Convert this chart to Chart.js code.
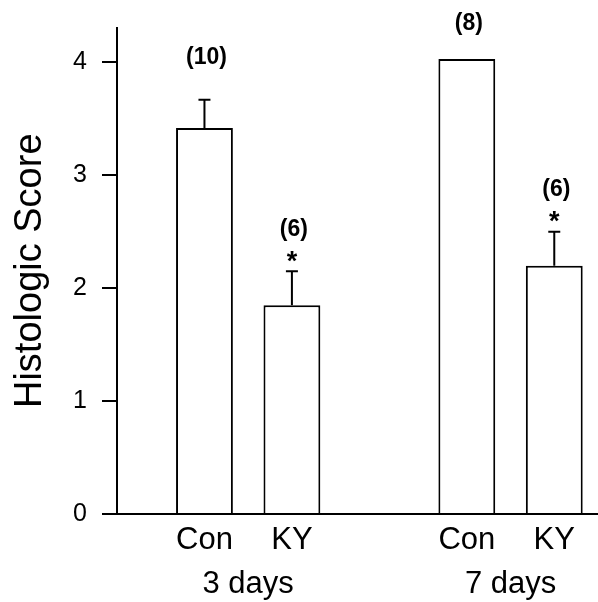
<!DOCTYPE html>
<html>
<head>
<meta charset="utf-8">
<script src="https://cdn.jsdelivr.net/npm/chart.js@4"></script>
<style>
  body { margin: 0; background: #fff; }
</style>
</head>
<body>
<canvas id="histo" width="598" height="602"></canvas>
<script>
// data
const groups = ['3 days', '7 days'];
const treatments = ['Con', 'KY'];
const means = [3.42, 1.85, 4.03, 2.20];   // Con 3d, KY 3d, Con 7d, KY 7d
const sem = [0.25, 0.30, 0, 0.30];
const nLabels = ['(10)', '(6)', '(8)', '(6)'];
const significant = [false, true, false, true];
const yTicks = [0, 1, 2, 3, 4];

const FONT = "'Liberation Sans', Arial, Helvetica, sans-serif";

// slot on the x scale: one empty slot between the two groups
const slot = i => Math.floor(i / treatments.length) * (treatments.length + 1) + (i % treatments.length) + 1;

const points = means.map((v, i) => ({ x: slot(i), y: v }));

// error bars (upper half only), n labels and significance stars
const errorBars = {
    id: 'errorBars',
    afterDatasetsDraw(chart) {
        const ctx = chart.ctx;
        const y = chart.scales.y;
        const meta = chart.getDatasetMeta(0);
        ctx.save();
        ctx.strokeStyle = '#000';
        ctx.fillStyle = '#000';
        ctx.lineWidth = 2;
        ctx.textAlign = 'center';
        ctx.textBaseline = 'middle';
        meta.data.forEach((bar, i) => {
            const top = y.getPixelForValue(means[i] + sem[i]);
            if (sem[i] > 0) {
                ctx.beginPath();
                ctx.moveTo(bar.x, bar.y);
                ctx.lineTo(bar.x, top);
                ctx.moveTo(bar.x - 6, top);
                ctx.lineTo(bar.x + 6, top);
                ctx.stroke();
            }
            if (significant[i]) {
                ctx.font = 'bold 27px ' + FONT;
                ctx.fillText('*', bar.x, top - 9);
            }
            ctx.font = 'bold 23px ' + FONT;
            ctx.fillText(nLabels[i], bar.x + 2, top - (sem[i] > 0 ? 42 : 35));
        });
        ctx.restore();
    }
};

const ctx = document.getElementById('histo').getContext('2d');
const myChart = new Chart(ctx, {
    type: 'bar',
    data: {
        datasets: [{
            data: points,
            backgroundColor: '#ffffff',
            borderColor: '#000000',
            borderWidth: 2,
            barPercentage: 0.65,
            categoryPercentage: 1
        }]
    },
    options: {
        responsive: false,
        animation: false,
        devicePixelRatio: 1,
        layout: { padding: { top: 27, right: 0, left: 0, bottom: 0 } },
        plugins: {
            legend: { display: false },
            tooltip: { enabled: false }
        },
        scales: {
            x: {
                type: 'linear',
                position: 'bottom',
                offset: false,
                weight: 0,
                min: 0,
                max: 5.5,
                grid: { display: false, drawTicks: false },
                border: { display: true, color: '#000', width: 2 },
                afterBuildTicks: scale => {
                    scale.ticks = means.map((v, i) => ({ value: slot(i) }));
                },
                ticks: {
                    autoSkip: false,
                    maxRotation: 0,
                    padding: 11,
                    color: '#000',
                    font: { family: FONT, size: 31, lineHeight: 1 },
                    callback: (value, index) => treatments[index % treatments.length]
                }
            },
            x2: {
                type: 'linear',
                position: 'bottom',
                offset: false,
                weight: 1,
                min: 0,
                max: 5.5,
                grid: { display: false, drawTicks: false },
                border: { display: false },
                afterBuildTicks: scale => {
                    scale.ticks = groups.map((g, k) => ({ value: k * (treatments.length + 1) + 1.5 }));
                },
                ticks: {
                    autoSkip: false,
                    maxRotation: 0,
                    padding: 2,
                    color: '#000',
                    font: { family: FONT, size: 31, lineHeight: 1 },
                    callback: (value, index) => groups[index]
                }
            },
            y: {
                min: 0,
                max: 4.31,
                afterBuildTicks: scale => {
                    scale.ticks = yTicks.map(v => ({ value: v }));
                },
                grid: {
                    drawOnChartArea: false,
                    drawTicks: true,
                    tickLength: 15,
                    color: '#000',
                    lineWidth: 2
                },
                border: { display: true, color: '#000', width: 2 },
                ticks: {
                    padding: 15,
                    color: '#000',
                    font: { family: FONT, size: 25, lineHeight: 1 }
                },
                title: {
                    display: true,
                    text: 'Histologic Score',
                    color: '#000',
                    font: { family: FONT, size: 38, lineHeight: 1.2 },
                    padding: { top: 8, bottom: 4.5 }
                }
            }
        }
    },
    plugins: [errorBars]
});
</script>
</body>
</html>
